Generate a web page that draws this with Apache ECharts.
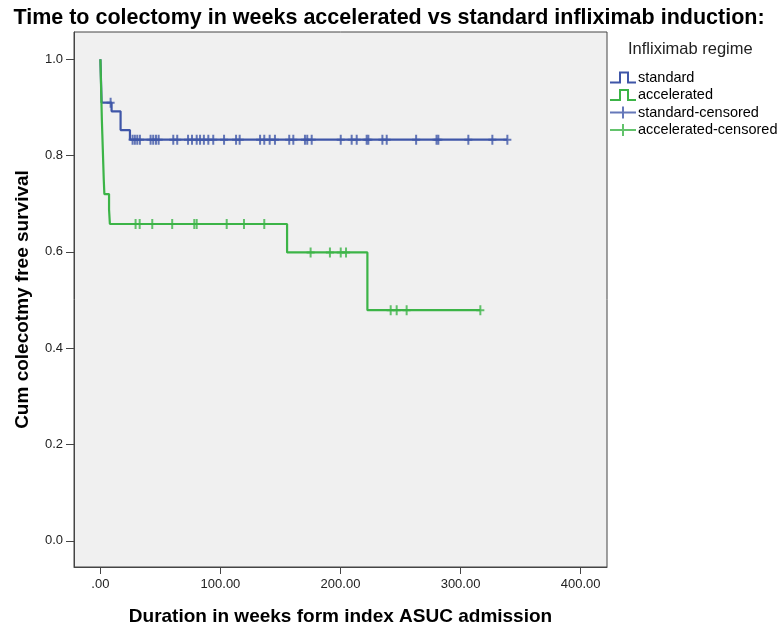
<!DOCTYPE html>
<html>
<head>
<meta charset="utf-8">
<script src="https://cdn.jsdelivr.net/npm/echarts@6/dist/echarts.min.js"></script>
<style>
  html, body { margin: 0; padding: 0; background: #fff; }
  #main { width: 778px; height: 628px; }
</style>
</head>
<body>
<div id="main"></div>
<script>
// event times (weeks) and survival after each step
var standardTimes = [0, 1, 9.3, 16.8, 24.6];
var standardSurv = [1, 0.91, 0.892, 0.853, 0.833];
var standardCensored = [8.5, 26.8, 28.7, 30.7, 32.9, 41.8, 44, 46.3, 48.5, 60.7, 64, 73, 76.3, 80.2, 83, 86.2, 89.9, 94,
  103, 113, 116, 133, 136.5, 141, 145.4, 157.3, 160.7, 170.4, 172.3, 176, 200.2, 209.3, 213.5, 221.8, 223.2,
  234.9, 238.5, 263, 280, 281.5, 306.5, 326.5, 339];

var accelTimes = [0, 0.3, 0.6, 0.9, 1.2, 1.6, 2.0, 2.4, 2.8, 3.3, 7.2, 7.9, 155.5, 222.4];
var accelSurv = [1, 0.969, 0.938, 0.906, 0.875, 0.844, 0.813, 0.781, 0.75, 0.72, 0.688, 0.658, 0.599, 0.479];
var accelCensored = [29.3, 32.7, 43.2, 59.8, 78.2, 80.2, 105.2, 119.6, 136.5, 175.1, 191.2, 200.2, 204.6,
  241.8, 246.8, 255.1, 316.5];

var xTicks = [0, 100, 200, 300, 400];
var yTicks = [0, 0.2, 0.4, 0.6, 0.8, 1.0];

var blue = '#3f56a8';
var green = '#3cb447';

function survAt(times, surv, t) {
  var s = surv[0];
  for (var i = 0; i < times.length; i++) {
    if (times[i] <= t) s = surv[i];
  }
  return s;
}
function stepData(times, surv, censored) {
  var d = [];
  for (var i = 0; i < times.length; i++) d.push([times[i], surv[i]]);
  var last = censored[censored.length - 1];
  if (last > times[times.length - 1]) d.push([last, survAt(times, surv, last)]);
  return d;
}
function censData(times, surv, censored) {
  return censored.map(function (t) { return [t, survAt(times, surv, t)]; });
}

var stepIcon = 'path://M0,10 H9 V0 H19 V10 H26 V12 H17 V2 H11 V12 H0 Z';
var crossIcon = 'path://M12,0 H14 V5 H26 V7 H14 V12 H12 V7 H0 V5 H12 Z';
var markSymbol = 'path://M3,0 H5 V4 H8 V6 H5 V10 H3 V6 H0 V4 H3 Z';

var myChart = echarts.init(document.getElementById('main'));
var option = {
  animation: false,
  backgroundColor: '#fff',
  title: [{
    text: 'Time to colectomy in weeks accelerated vs standard infliximab induction:',
    left: 'center',
    top: 2,
    textStyle: { fontFamily: 'Liberation Sans, Arial', fontSize: 21.5, fontWeight: 'bold', color: '#000' }
  }, {
    text: 'Infliximab regime',
    left: 623,
    top: 36,
    textStyle: { fontFamily: 'Liberation Sans Narrow, Liberation Sans', fontSize: 16.5, fontWeight: 'normal', color: '#222' }
  }],
  legend: {
    orient: 'vertical',
    left: 610,
    top: 70,
    padding: 0,
    itemWidth: 26,
    itemHeight: 12,
    itemGap: 2.5,
    textStyle: { fontFamily: 'Liberation Sans, Arial', fontSize: 14.5, color: '#000', padding: [0, 0, 0, -3] },
    data: [
      { name: 'standard', icon: stepIcon },
      { name: 'accelerated', icon: stepIcon },
      { name: 'standard-censored', icon: crossIcon },
      { name: 'accelerated-censored', icon: crossIcon }
    ]
  },
  grid: {
    left: 74, right: 171, top: 32, bottom: 61,
    outerBoundsMode: 'none',
    show: true,
    backgroundColor: '#f0f0f0',
    borderColor: '#444',
    borderWidth: 1
  },
  xAxis: {
    type: 'value',
    min: -22,
    max: 422,
    name: 'Duration in weeks form index ASUC admission',
    nameLocation: 'middle',
    nameGap: 40,
    nameTextStyle: { fontFamily: 'Liberation Sans, Arial', fontSize: 19, fontWeight: 'bold', color: '#000' },
    axisLine: { show: true, onZero: false, lineStyle: { color: '#444' } },
    axisTick: { show: true, customValues: xTicks, length: 7, lineStyle: { color: '#444' } },
    axisLabel: {
      customValues: xTicks,
      fontFamily: 'Liberation Sans, Arial', fontSize: 13, color: '#222', margin: 11,
      formatter: function (v) { return v === 0 ? '.00' : v.toFixed(2); }
    },
    splitLine: { show: false }
  },
  yAxis: {
    type: 'value',
    min: -0.0544,
    max: 1.0567,
    name: 'Cum colecotmy free survival',
    nameLocation: 'middle',
    nameRotate: 90,
    nameGap: 42,
    nameTextStyle: { fontFamily: 'Liberation Sans, Arial', fontSize: 19, fontWeight: 'bold', color: '#000' },
    axisLine: { show: true, onZero: false, lineStyle: { color: '#444' } },
    axisTick: { show: true, customValues: yTicks, length: 8, lineStyle: { color: '#444' } },
    axisLabel: {
      customValues: yTicks,
      fontFamily: 'Liberation Sans, Arial', fontSize: 13, color: '#222', margin: 11,
      formatter: function (v) { return v.toFixed(1); }
    },
    splitLine: { show: false }
  },
  series: [{
    name: 'standard',
    type: 'line',
    step: 'end',
    showSymbol: false,
    color: blue,
    lineStyle: { color: blue, width: 2.2 },
    data: stepData(standardTimes, standardSurv, standardCensored),
    z: 2
  }, {
    name: 'accelerated',
    type: 'line',
    step: 'end',
    showSymbol: false,
    color: green,
    lineStyle: { color: green, width: 2.2 },
    data: stepData(accelTimes, accelSurv, accelCensored),
    z: 3
  }, {
    name: 'standard-censored',
    type: 'scatter',
    symbol: markSymbol,
    symbolSize: [8, 10],
    color: blue,
    itemStyle: { color: blue },
    data: censData(standardTimes, standardSurv, standardCensored),
    z: 4
  }, {
    name: 'accelerated-censored',
    type: 'scatter',
    symbol: markSymbol,
    symbolSize: [8, 10],
    color: green,
    itemStyle: { color: green },
    data: censData(accelTimes, accelSurv, accelCensored),
    z: 5
  }]
};
myChart.setOption(option);
</script>
</body>
</html>
